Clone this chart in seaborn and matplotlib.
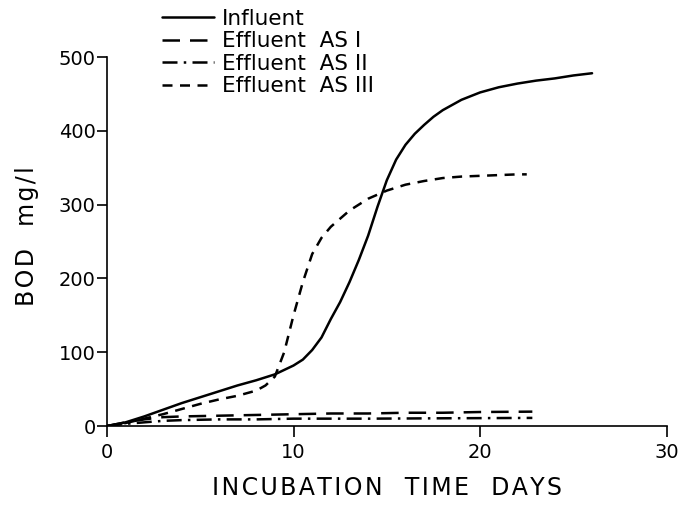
import matplotlib
matplotlib.use("Agg")
import matplotlib.pyplot as plt
import seaborn as sns
import pandas as pd

# BOD development over incubation time (mg/l)
influent_days = [0, 1, 2, 3, 4, 5, 6, 7, 8, 9, 10, 10.5, 11, 11.5, 12, 12.5, 13, 13.5, 14, 14.5,
                 15, 15.5, 16, 16.5, 17, 17.5, 18, 19, 20, 21, 22, 23, 24, 25, 26]
influent_bod = [0, 5, 13, 22, 31, 39, 47, 55, 62, 70, 82, 90, 103, 120, 145, 168, 195, 225, 258, 297,
                333, 361, 381, 396, 408, 419, 428, 442, 452, 459, 464, 468, 471, 475, 478]

as1_days = [0, 1, 2, 3, 4, 6, 8, 10, 12, 14, 16, 18, 20, 22.8]
as1_bod = [0, 5, 9, 12, 13, 14, 15, 16, 17, 17, 18, 18, 19, 19.5]

as2_days = [0, 1, 2, 3, 4, 6, 8, 10, 14, 18, 22.8]
as2_bod = [0, 3, 5, 7, 8, 9, 9, 10, 10, 10.5, 11]

as3_days = [0, 1, 2, 3, 4, 5, 6, 7, 8, 8.5, 9, 9.5, 10, 10.5, 11, 11.5, 12, 13, 14, 15, 16,
            17, 18, 19, 20, 21, 22, 22.5]
as3_bod = [0, 4, 10, 16, 23, 30, 36, 41, 48, 55, 67, 100, 150, 195, 233, 255, 270, 292, 308, 319, 327,
           332, 336, 338, 339, 340, 341, 341]

series_names = ["Influent", "Effluent  AS I", "Effluent  AS II", "Effluent  AS III"]
x_ticks = [0, 10, 20, 30]
y_ticks = [0, 100, 200, 300, 400, 500]

frames = []
for name, d, v in zip(series_names,
                      [influent_days, as1_days, as2_days, as3_days],
                      [influent_bod, as1_bod, as2_bod, as3_bod]):
    frames.append(pd.DataFrame({"day": d, "bod": v, "series": name}))
df = pd.concat(frames, ignore_index=True)

sns.set_theme(style="ticks")
plt.rcParams["font.family"] = ["DejaVu Sans"]
plt.rcParams["text.color"] = "black"
plt.rcParams["axes.labelcolor"] = "black"

fig = plt.figure(figsize=(6.81, 5.09), dpi=100)
ax = fig.add_axes([0.157, 0.163, 0.822, 0.725])

dash_styles = {
    "Influent": "",
    "Effluent  AS I": (7, 4),
    "Effluent  AS II": (6, 2.5, 1, 2.5),
    "Effluent  AS III": (4, 3),
}
sns.lineplot(data=df, x="day", y="bod", hue="series", style="series",
             palette=["black"] * 4, dashes=dash_styles, linewidth=1.8,
             sort=False, ax=ax, legend=False)

ax.set_xlim(0, 30)
ax.set_ylim(0, 500)
ax.set_xticks(x_ticks)
ax.set_yticks(y_ticks)
ax.set_xticklabels([str(t) for t in x_ticks], fontsize=14)
ax.set_yticklabels([str(t) for t in y_ticks], fontsize=14)
ax.tick_params(axis="x", direction="out", length=8, width=1.2, colors="black", pad=4)
ax.tick_params(axis="y", direction="out", length=7, width=1.2, colors="black", pad=1)
for s in ["top", "right"]:
    ax.spines[s].set_visible(False)
for s in ["left", "bottom"]:
    ax.spines[s].set_linewidth(1.2)
    ax.spines[s].set_color("black")


def spaced(text):
    # widen letter spacing with hair spaces
    return "\u200a".join(text)


ax.set_xlabel(spaced("INCUBATION  TIME  DAYS"), fontsize=17, labelpad=10)
ax.set_ylabel(spaced("BOD  mg/l"), fontsize=17)
ax.yaxis.set_label_coords(-0.122, 0.515)

handles = ax.get_lines()[:4]
fig.legend(handles, series_names, loc="upper left", bbox_to_anchor=(0.225, 1.0),
           frameon=False, fontsize=15.5, handlelength=2.4, handletextpad=0.4,
           labelspacing=0.12, borderaxespad=0.0)

fig.savefig("out.png", dpi=100)
